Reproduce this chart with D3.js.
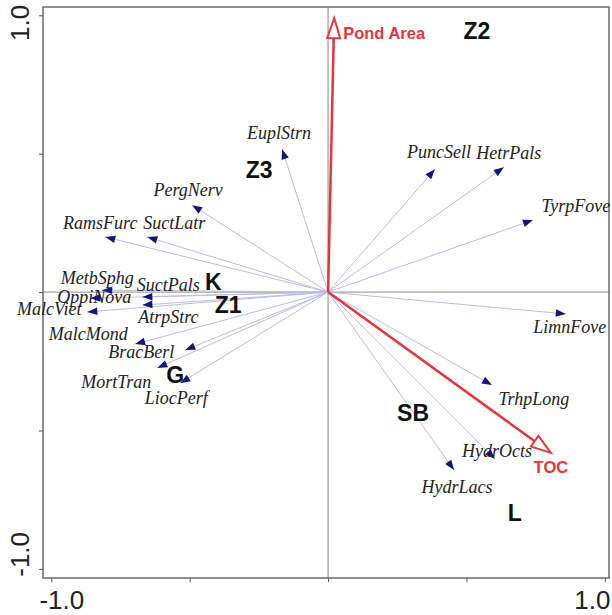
<!DOCTYPE html>
<html>
<head>
<meta charset="utf-8">
<script src="https://cdn.jsdelivr.net/npm/d3@7"></script>
<style>
  html, body { margin: 0; padding: 0; background: #fff; }
  svg { display: block; }
</style>
</head>
<body>
<svg id="chart" width="612" height="615"></svg>
<script>
// Species scores (axis 1, axis 2)
const species = ["EuplStrn","PergNerv","RamsFurc","SuctLatr","MetbSphg","SuctPals","OppiNova",
  "MalcViet","AtrpStrc","MalcMond","BracBerl","MortTran","LiocPerf","PuncSell","HetrPals",
  "TyrpFove","LimnFove","TrhpLong","HydrOcts","HydrLacs"];
const speciesAx1 = [-0.166,-0.491,-0.805,-0.653,-0.816,-0.671,-0.859,-0.870,-0.671,-0.697,
  -0.516,-0.617,-0.534,0.386,0.635,0.740,0.859,0.592,0.603,0.455];
const speciesAx2 = [0.516,0.314,0.199,0.199,0.007,-0.018,-0.022,-0.072,-0.047,-0.188,
  -0.209,-0.274,-0.329,0.444,0.451,0.260,-0.079,-0.336,-0.603,-0.643];

// Environmental variables
const envVars = ["Pond Area","TOC"];
const envAx1 = [0.022, 0.805];
const envAx2 = [0.99, -0.581];

// Sample (site) centroids
const samples = ["Z2","Z3","K","Z1","G","SB","L"];
const sampleAx1 = [0.538,-0.249,-0.415,-0.361,-0.552,0.307,0.675];
const sampleAx2 = [0.944,0.440,0.036,-0.047,-0.300,-0.437,-0.799];

// Axis tick values and labels
const tickValues = [-1,-0.5,0,0.5,1];
const tickLabels = {"-1": "-1.0", "1": "1.0"};

// Label placement around arrow tips (pixel offsets of the label centre)
const labelOffset = {
  EuplStrn:[-3,-17], PergNerv:[-4,-15], RamsFurc:[-5,-14], SuctLatr:[27,-14],
  MetbSphg:[-5,-12], SuctPals:[26,-12], OppiNova:[4,-1], MalcViet:[-38,-3],
  AtrpStrc:[26,12], MalcMond:[-47,-10], BracBerl:[-44,2], MortTran:[-41,14],
  LiocPerf:[-4,15], PuncSell:[4,-17], HetrPals:[5,-15], TyrpFove:[43,-14],
  LimnFove:[4,13], TrhpLong:[42,14], HydrOcts:[2,-8], HydrLacs:[3,17]
};
// end-of-axis labels sit slightly inside their ticks
const xLabelShift = {"-1": 10, "1": -13};
const yLabelShift = {"-1": -15, "1": 7};

const svg = d3.select("#chart");
const box = {left: 43, right: 609, top: 7, bottom: 578};

const x = d3.scaleLinear().domain([-1.03, 1.015]).range([box.left, box.right]);
const y = d3.scaleLinear().domain([-1.033, 1.03]).range([box.bottom, box.top]);

// zero lines
svg.append("line").attr("x1", x(0)).attr("x2", x(0)).attr("y1", box.top).attr("y2", box.bottom)
  .attr("stroke", "#8a8a8a").attr("stroke-width", 1);
svg.append("line").attr("x1", box.left).attr("x2", box.right).attr("y1", y(0)).attr("y2", y(0))
  .attr("stroke", "#8a8a8a").attr("stroke-width", 1);

// frame
svg.append("rect").attr("x", box.left).attr("y", box.top)
  .attr("width", box.right - box.left).attr("height", box.bottom - box.top)
  .attr("fill", "none").attr("stroke", "#6a6a6a").attr("stroke-width", 1.5);

// axes
const fmt = d => tickLabels[String(d)] || "";
const xAxis = d3.axisBottom(x).tickValues(tickValues).tickSize(4).tickFormat(fmt);
const yAxis = d3.axisLeft(y).tickValues(tickValues).tickSize(4).tickFormat(fmt);

const gx = svg.append("g").attr("transform", `translate(0,${box.bottom})`).call(xAxis);
gx.select(".domain").remove();
gx.selectAll(".tick line").attr("stroke", "#555");
gx.selectAll(".tick text").attr("font-family", "Liberation Sans, Arial, sans-serif")
  .attr("font-size", 26).attr("fill", "#222").attr("y", 13).attr("dy", "0.71em")
  .attr("x", d => xLabelShift[String(d)] || 0);

const gy = svg.append("g").attr("transform", `translate(${box.left},0)`).call(yAxis);
gy.select(".domain").remove();
gy.selectAll(".tick line").attr("stroke", "#555");
gy.selectAll(".tick text").attr("font-family", "Liberation Sans, Arial, sans-serif")
  .attr("font-size", 26).attr("fill", "#222")
  .attr("x", null).attr("dy", null)
  .attr("text-anchor", "middle")
  .attr("transform", d => `translate(-14,${yLabelShift[String(d)] || 0}) rotate(-90)`);

const cx = x(0), cy = y(0);

// arrow head helper: triangle with tip at (tx,ty) pointing along the vector from origin
function headPath(tx, ty, len, half) {
  const dx = tx - cx, dy = ty - cy, L = Math.hypot(dx, dy);
  const ux = dx / L, uy = dy / L;
  const bx = tx - ux * len, by = ty - uy * len;
  return `M${tx},${ty}L${bx - uy * half},${by + ux * half}L${bx + uy * half},${by - ux * half}Z`;
}

// species arrows
const sp = species.map((name, i) => ({name, px: x(speciesAx1[i]), py: y(speciesAx2[i])}));
const gs = svg.append("g");
gs.selectAll("line").data(sp).join("line")
  .attr("x1", cx).attr("y1", cy).attr("x2", d => d.px).attr("y2", d => d.py)
  .attr("stroke", "#bcbce4").attr("stroke-width", 1);
gs.selectAll("path").data(sp).join("path")
  .attr("d", d => headPath(d.px, d.py, 10, 3.8))
  .attr("fill", "#14147a");
gs.selectAll("text").data(sp).join("text")
  .attr("x", d => d.px + labelOffset[d.name][0])
  .attr("y", d => d.py + labelOffset[d.name][1])
  .attr("dy", "0.35em").attr("text-anchor", "middle")
  .attr("font-family", "Liberation Serif, Times New Roman, serif")
  .attr("font-style", "italic").attr("font-size", 18).attr("fill", "#222")
  .text(d => d.name);

// environmental arrows
const env = envVars.map((name, i) => ({name, px: x(envAx1[i]), py: y(envAx2[i])}));
const ge = svg.append("g");
const headLen = 20, headHalf = 6.5;
ge.selectAll("line").data(env).join("line")
  .attr("x1", cx).attr("y1", cy)
  .attr("x2", d => { const L = Math.hypot(d.px - cx, d.py - cy); return d.px - (d.px - cx) / L * headLen; })
  .attr("y2", d => { const L = Math.hypot(d.px - cx, d.py - cy); return d.py - (d.py - cy) / L * headLen; })
  .attr("stroke", "#e2373d").attr("stroke-width", 2.5);
ge.selectAll("path").data(env).join("path")
  .attr("d", d => headPath(d.px, d.py, headLen, headHalf))
  .attr("fill", "#fff").attr("stroke", "#e2373d").attr("stroke-width", 2)
  .attr("stroke-linejoin", "miter");
const envLabelOffset = {"Pond Area": [50, 15], "TOC": [0, 14]};
ge.selectAll("text").data(env).join("text")
  .attr("x", d => d.px + envLabelOffset[d.name][0])
  .attr("y", d => d.py + envLabelOffset[d.name][1])
  .attr("dy", "0.35em").attr("text-anchor", "middle")
  .attr("font-family", "Liberation Sans, Arial, sans-serif")
  .attr("font-weight", "bold").attr("font-size", 16.5).attr("fill", "#e2373d")
  .text(d => d.name);

// sample labels
svg.append("g").selectAll("text")
  .data(samples.map((name, i) => ({name, px: x(sampleAx1[i]), py: y(sampleAx2[i])})))
  .join("text")
  .attr("x", d => d.px).attr("y", d => d.py)
  .attr("dy", "0.35em").attr("text-anchor", "middle")
  .attr("font-family", "Liberation Sans, Arial, sans-serif")
  .attr("font-weight", "bold").attr("font-size", 23).attr("fill", "#111")
  .text(d => d.name);
</script>
</body>
</html>
